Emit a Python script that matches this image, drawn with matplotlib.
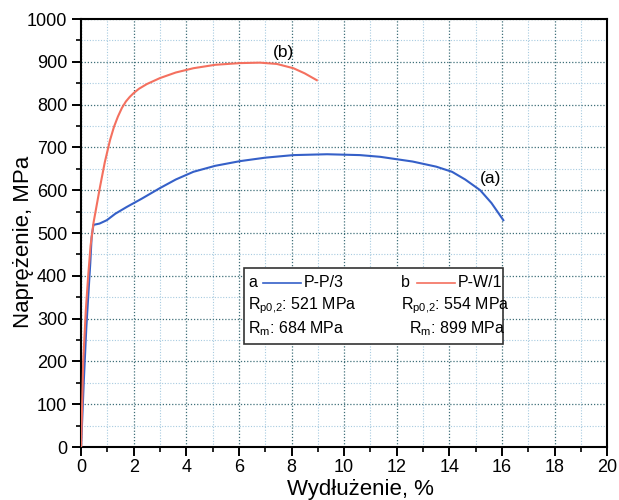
import numpy as np
import matplotlib.pyplot as plt
from matplotlib.ticker import MultipleLocator
from matplotlib.lines import Line2D

plt.rcParams['font.family'] = ['Liberation Sans', 'DejaVu Sans']
plt.rcParams['mathtext.fontset'] = 'custom'
plt.rcParams['mathtext.rm'] = 'Liberation Sans'
plt.rcParams['mathtext.it'] = 'Liberation Sans'

# krzywa (a) P-P/3
eps_a = [0, 0.1, 0.2, 0.27, 0.35, 0.4, 0.47, 0.7, 0.98, 1.3, 1.74, 2.3, 3.0, 3.6, 4.27,
         5.1, 6.05, 7.0, 8.07, 9.35, 10.6, 11.37, 12.6, 13.5, 14.1, 14.6, 15.17, 15.6, 16.05]
sig_a = [0, 150, 280, 350, 430, 490, 519, 522, 530, 545, 561, 580, 605, 625, 643,
         657, 668, 676, 682, 684, 682, 678, 667, 655, 643, 625, 600, 570, 530]

# krzywa (b) P-W/1
eps_b = [0, 0.08, 0.18, 0.27, 0.36, 0.47, 0.72, 0.9, 1.1, 1.25, 1.4, 1.55, 1.7, 1.85,
         2.0, 2.2, 2.5, 3.0, 3.6, 4.27, 5.1, 6.05, 6.8, 7.44, 8.07, 8.5, 8.96]
sig_b = [0, 200, 320, 400, 470, 523, 608, 665, 717, 748, 772, 792, 807, 818,
         827, 837, 848, 862, 875, 885, 893, 897, 898, 895, 885, 873, 857]

blue = '#3560c8'
red = '#f4705f'

fig = plt.figure(figsize=(6.19, 5.0), dpi=100)
ax = fig.add_axes([0.131, 0.106, 0.85, 0.856])

ax.plot(eps_a, sig_a, color=blue, lw=1.5, zorder=3)
ax.plot(eps_b, sig_b, color=red, lw=1.5, zorder=3)

ax.set_xlim(0, 20)
ax.set_ylim(0, 1000)
ax.xaxis.set_major_locator(MultipleLocator(2))
ax.xaxis.set_minor_locator(MultipleLocator(1))
ax.yaxis.set_major_locator(MultipleLocator(100))
ax.yaxis.set_minor_locator(MultipleLocator(50))

ax.grid(which='major', color='#3f6f78', ls=(0, (1, 1.5)), lw=0.9)
ax.grid(which='minor', color='#a8cbe0', ls=(0, (1, 1.5)), lw=0.8)
ax.set_axisbelow(True)

for s in ax.spines.values():
    s.set_linewidth(1.5)
    s.set_color('black')
ax.tick_params(which='major', direction='out', length=6.5, width=1.4, labelsize=13,
               top=False, right=False)
ax.tick_params(axis='x', which='major', pad=2)
ax.tick_params(which='minor', direction='out', length=3.5, width=1.2,
               top=False, right=False)

ax.set_xlabel('Wydłużenie, %', fontsize=16)
ax.set_ylabel('Naprężenie, MPa', fontsize=16)
ax.xaxis.set_label_coords(0.53, -0.074)
ax.yaxis.set_label_coords(-0.09, 0.48)

ax.text(7.7, 922, '(b)', fontsize=12.5, ha='center', va='center')
ax.text(15.55, 628, '(a)', fontsize=12.5, ha='center', va='center')

# ramka z opisem
box = plt.Rectangle((6.2, 240), 9.85, 178, fill=True, facecolor='white',
                    edgecolor='#333333', lw=1.2, zorder=4)
ax.add_patch(box)
fs = 11.5
ax.text(6.35, 384, 'a', fontsize=fs, va='center', zorder=5)
ax.add_line(Line2D([6.9, 8.35], [384, 384], color=blue, lw=1.2, zorder=5))
ax.text(8.45, 384, 'P-P/3', fontsize=fs, va='center', zorder=5)
ax.text(6.35, 330, r'R$_{\mathrm{p0{,}2}}$: 521 MPa', fontsize=fs, va='center', zorder=5)
ax.text(6.35, 276, r'R$_{\mathrm{m}}$: 684 MPa', fontsize=fs, va='center', zorder=5)

ax.text(12.15, 384, 'b', fontsize=fs, va='center', zorder=5)
ax.add_line(Line2D([12.75, 14.2], [384, 384], color=red, lw=1.2, zorder=5))
ax.text(14.3, 384, 'P-W/1', fontsize=fs, va='center', zorder=5)
ax.text(12.15, 330, r'R$_{\mathrm{p0{,}2}}$: 554 MPa', fontsize=fs, va='center', zorder=5)
ax.text(12.45, 276, r'R$_{\mathrm{m}}$: 899 MPa', fontsize=fs, va='center', zorder=5)

fig.savefig('out.png', dpi=100)
